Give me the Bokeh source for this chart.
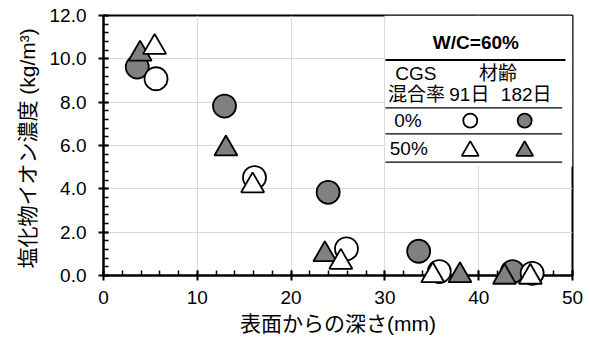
import numpy as np
from bokeh.plotting import figure
from bokeh.models import FixedTicker, Range1d, ColumnDataSource
from bokeh.core.properties import value
from bokeh.transform import dodge
from bokeh.embed import file_html
from bokeh.resources import INLINE

# ---------------- data ----------------
# CGS 0%, age 91 days (white circles)
depth_0_91 = [5.6, 16.1, 25.9, 35.8, 45.7]
cl_0_91 = [9.08, 4.52, 1.23, 0.18, 0.10]
# CGS 0%, age 182 days (grey circles)
depth_0_182 = [3.6, 12.9, 23.95, 33.6, 43.6]
cl_0_182 = [9.62, 7.82, 3.84, 1.12, 0.18]
# CGS 50%, age 91 days (white triangles)
depth_50_91 = [5.45, 15.9, 25.3, 35.1, 45.5]
cl_50_91 = [10.69, 4.3, 0.77, 0.15, 0.08]
# CGS 50%, age 182 days (grey triangles)
depth_50_182 = [3.9, 13.05, 23.6, 38.0, 42.75]
cl_50_182 = [10.38, 6.0, 1.12, 0.15, 0.08]

x_ticks = [0, 10, 20, 30, 40, 50]
x_minor_ticks = list(range(0, 51, 2))
y_ticks = [0, 2, 4, 6, 8, 10, 12]
y_minor_ticks = [round(0.4 * i, 1) for i in range(31)]
y_tick_labels = ["0.0", "2.0", "4.0", "6.0", "8.0", "10.0", "12.0"]

x_title = "表面からの深さ(mm)"
y_title = "塩化物イオン濃度  (kg/m³)"
legend_title = "W/C=60%"
legend_head1 = ["CGS", "材齢"]
legend_head2 = ["混合率", "91日", "182日"]
legend_rows = ["0%", "50%"]

# ---------------- styles / layout ----------------
FONT = "'Liberation Sans', 'Noto Sans CJK JP', sans-serif"
GREY = "#808080"
MARK = 23
LEG_MARK_C = 14
LEG_MARK_T = 17
X_MAX, Y_MAX = 50, 12
PX_PER_Y = 260 / 12.0
TRI_SHIFT = 0.289 * (MARK / 2) / PX_PER_Y
LEG_TRI_SHIFT = 0.289 * (LEG_MARK_T / 2) / PX_PER_Y

p = figure(width=590, height=343, x_range=Range1d(0, X_MAX), y_range=Range1d(0, Y_MAX),
           output_backend="svg", toolbar_location=None,
           min_border_left=103, min_border_right=18, min_border_top=15, min_border_bottom=68)
p.background_fill_color = "white"
p.border_fill_color = "white"
p.outline_line_color = "black"
p.outline_line_width = 2

p.xaxis.ticker = FixedTicker(ticks=x_ticks, minor_ticks=x_minor_ticks)
p.yaxis.ticker = FixedTicker(ticks=y_ticks, minor_ticks=y_minor_ticks)
p.yaxis.major_label_overrides = {t: l for t, l in zip(y_ticks, y_tick_labels)}

for ax in (p.xaxis[0], p.yaxis[0]):
    ax.axis_line_color = "black"
    ax.axis_line_width = 2
    ax.major_tick_line_color = "black"
    ax.major_tick_line_width = 2
    ax.major_tick_in = 5
    ax.major_tick_out = 5
    ax.minor_tick_line_color = "black"
    ax.minor_tick_line_width = 1.5
    ax.minor_tick_in = 5
    ax.minor_tick_out = 0
    ax.major_label_text_font = FONT
    ax.major_label_text_font_size = "19px"
    ax.major_label_text_color = "black"
    ax.axis_label_text_font = FONT
    ax.axis_label_text_font_size = "21px"
    ax.axis_label_text_font_style = "normal"
    ax.axis_label_text_color = "black"

p.xaxis.axis_label = x_title
p.yaxis.axis_label = y_title
p.xaxis.major_label_standoff = 10
p.yaxis.major_label_standoff = 12
p.xaxis.axis_label_standoff = 5
p.yaxis.axis_label_standoff = 8

p.grid.grid_line_color = "#d9d9d9"
p.grid.grid_line_width = 1

# ---------------- data marks (drawn above the axes, not clipped by the frame) ----------------
s0_182 = ColumnDataSource(dict(x=depth_0_182, y=cl_0_182))
s0_91 = ColumnDataSource(dict(x=depth_0_91, y=cl_0_91))
s50_182 = ColumnDataSource(dict(x=depth_50_182, y=cl_50_182))
s50_91 = ColumnDataSource(dict(x=depth_50_91, y=cl_50_91))

p.scatter("x", "y", source=s0_182, marker="circle", size=MARK, level="annotation",
          fill_color=GREY, line_color="black", line_width=1.8)
p.scatter("x", "y", source=s0_91, marker="circle", size=MARK, level="annotation",
          fill_color="white", line_color="black", line_width=1.8)
p.scatter("x", dodge("y", -TRI_SHIFT, range=p.y_range), source=s50_182, marker="triangle",
          size=MARK, level="annotation", fill_color=GREY, line_color="black", line_width=1.8)
p.scatter("x", dodge("y", -TRI_SHIFT, range=p.y_range), source=s50_91, marker="triangle",
          size=MARK, level="annotation", fill_color="white", line_color="black", line_width=1.8)

# ---------------- table-style legend (layout in data units) ----------------
LX0, LX1 = 30.06, X_MAX
p.quad(left=[LX0], right=[LX1], bottom=[5.03], top=[Y_MAX],
       fill_color="white", line_color=None)

def txt(x, y, s, bold=False, size="19px"):
    p.text(x=[x], y=[y], text=[s], text_align="center", text_baseline="middle",
           text_font=value(FONT), text_font_size=size,
           text_font_style="bold" if bold else "normal", text_color="black")

txt(39.7, 10.77, legend_title, bold=True)
p.segment(x0=[LX0], y0=[9.95], x1=[49.25], y1=[9.95], line_color="black", line_width=2)
txt(33.3, 9.32, legend_head1[0])
txt(42.06, 9.32, legend_head1[1])
txt(33.37, 8.35, legend_head2[0])
txt(39.0, 8.35, legend_head2[1])
txt(45.06, 8.35, legend_head2[2])
for yy in (7.74, 6.54, 5.23):
    p.segment(x0=[LX0], y0=[yy], x1=[48.9], y1=[yy], line_color="black", line_width=1.2)
txt(32.46, 7.15, legend_rows[0])
txt(32.55, 5.86, legend_rows[1])
p.scatter(x=[39.1], y=[7.15], marker="circle", size=LEG_MARK_C,
          fill_color="white", line_color="black", line_width=1.8)
p.scatter(x=[44.9], y=[7.15], marker="circle", size=LEG_MARK_C,
          fill_color=GREY, line_color="black", line_width=1.8)
p.scatter(x=[39.1], y=[5.86 - LEG_TRI_SHIFT], marker="triangle", size=LEG_MARK_T,
          fill_color="white", line_color="black", line_width=1.8)
p.scatter(x=[44.9], y=[5.86 - LEG_TRI_SHIFT], marker="triangle", size=LEG_MARK_T,
          fill_color=GREY, line_color="black", line_width=1.8)

open("out.html", "w").write(file_html(p, INLINE))
